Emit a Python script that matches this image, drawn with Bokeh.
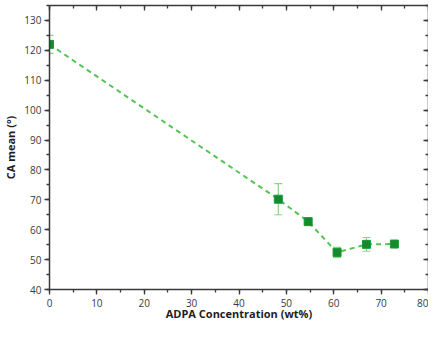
from bokeh.plotting import figure
from bokeh.models import (LinearAxis, Whisker, ColumnDataSource, Range1d, SingleIntervalTicker,
                          TeeHead, CustomLabelingPolicy)
from bokeh.embed import file_html
from bokeh.resources import INLINE

conc = [0, 48.3, 54.6, 60.7, 66.9, 72.8]
ca = [122.0, 70.2, 62.7, 52.4, 55.1, 55.2]
err = [3.0, 5.2, 0.8, 1.7, 2.3, 0.5]

x_label = "ADPA Concentration (wt%)"
y_label = "CA mean (°)"

src = ColumnDataSource(dict(
    x=conc, y=ca,
    upper=[c + e for c, e in zip(ca, err)],
    lower=[c - e for c, e in zip(ca, err)],
))

FONT = "Open Sans"
AXC = "#3a3a3a"

p = figure(width=428, height=323, output_backend="svg", toolbar_location=None,
           x_range=Range1d(0, 80), y_range=Range1d(40, 135),
           min_border_left=45, min_border_right=0, min_border_top=5, min_border_bottom=20)
p.grid.visible = False
p.outline_line_color = None
p.background_fill_color = "white"

for ax in (p.xaxis[0], p.yaxis[0]):
    ax.ticker = SingleIntervalTicker(interval=10, num_minor_ticks=2)
    ax.axis_line_color = AXC
    ax.axis_line_width = 1.5
    ax.major_tick_line_color = AXC
    ax.minor_tick_line_color = AXC
    ax.major_tick_line_width = 1.3
    ax.minor_tick_line_width = 1.3
    ax.major_tick_out = 5
    ax.major_tick_in = 0
    ax.minor_tick_out = 3
    ax.minor_tick_in = 0
    ax.major_label_text_font = FONT
    ax.major_label_text_font_size = "10px"
    ax.major_label_text_color = AXC
    ax.axis_label_text_font = FONT
    ax.axis_label_text_font_size = "11px"
    ax.axis_label_text_font_style = "bold"
    ax.axis_label_text_color = "#1e1e1e"
    ax.major_label_standoff = 3

p.xaxis.axis_label = x_label
p.yaxis.axis_label = y_label
p.xaxis.major_label_standoff = 4
p.xaxis.axis_label_standoff = -4
p.yaxis.axis_label_standoff = 3

no_labels = CustomLabelingPolicy(code="""
const ids = Array.from(indices)
for (const i of ids) indices.unset(i)
return indices
""")

for loc in ("right", "above"):
    ax = LinearAxis(ticker=SingleIntervalTicker(interval=10, num_minor_ticks=2))
    ax.axis_line_color = AXC
    ax.axis_line_width = 1.5
    ax.major_tick_line_color = AXC
    ax.minor_tick_line_color = AXC
    ax.major_tick_line_width = 1.3
    ax.minor_tick_line_width = 1.3
    ax.major_tick_out = 0
    ax.major_tick_in = 5
    ax.minor_tick_out = 0
    ax.minor_tick_in = 3
    ax.major_label_text_font_size = "0px"
    ax.major_label_standoff = 0
    ax.major_label_policy = no_labels
    p.add_layout(ax, loc)

p.line("x", "y", source=src, line_color="#55c455", line_width=2, line_dash="5 4")
w = Whisker(source=src, base="x", upper="upper", lower="lower",
            line_color="#88d488", line_width=1.2,
            upper_head=TeeHead(size=8, line_color="#88d488", line_width=1.2),
            lower_head=TeeHead(size=8, line_color="#88d488", line_width=1.2))
p.add_layout(w)
p.scatter("x", "y", source=src, marker="square", size=8, fill_color="#138a2e",
          line_color="#1a9a35", line_width=1)

open("out.html", "w").write(file_html(p, INLINE))
